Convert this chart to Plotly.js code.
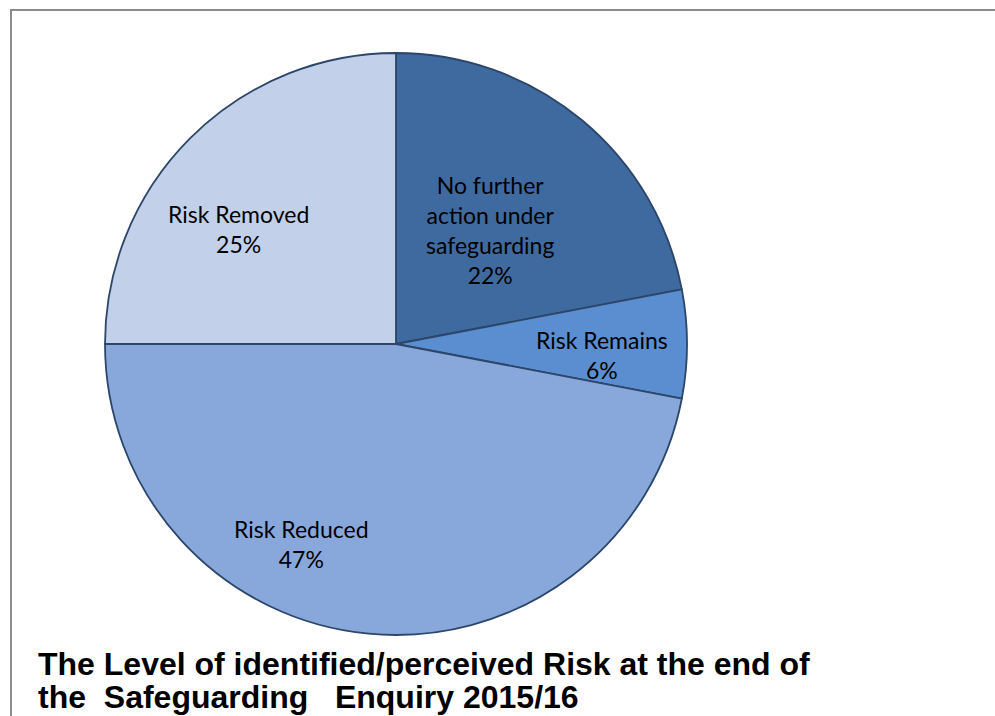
<!DOCTYPE html>
<html>
<head>
<meta charset="utf-8">
<script src="https://cdn.plot.ly/plotly-3.0.1.min.js"></script>
<style>
html,body{margin:0;padding:0;background:#fff;}
#frame{position:absolute;left:10px;top:9px;width:990px;height:720px;border-left:2px solid #8c8c8c;border-top:2px solid #8c8c8c;}
#chart{position:absolute;left:0;top:0;width:995px;height:716px;}
</style>
</head>
<body>
<div id="frame"></div>
<div id="chart"></div>
<script>
var categories = ["No further<br>action under<br>safeguarding", "Risk Remains", "Risk Reduced", "Risk Removed"];
var values = [22, 6, 47, 25];
var colors = ["#3f6aa0", "#5a8ed0", "#88a8dc", "#c2d0ea"];
var titleLines = ["The Level of identified/perceived Risk at the end of", "the  Safeguarding   Enquiry 2015/16"];

// label placement (angle offset from slice middle in degrees, radius fraction)
var labelAngleOffset = [0, 3, 20, -9];
var labelRadius = [0.51, 0.71, 0.76, 0.67];

var W = 995, H = 716;
var cx = 396, cy = 344, R = 291;
var total = values.reduce(function(a,b){return a+b;},0);

var annotations = [];
var cum = 0;
for (var i = 0; i < values.length; i++) {
  var mid = (cum + values[i]/2) / total * 360 + labelAngleOffset[i];
  cum += values[i];
  var a = mid * Math.PI / 180;
  var px = cx + Math.sin(a) * R * labelRadius[i];
  var py = cy - Math.cos(a) * R * labelRadius[i];
  annotations.push({
    x: px / W, y: 1 - py / H, xref: "paper", yref: "paper",
    xanchor: "center", yanchor: "middle",
    text: categories[i] + "<br>" + Math.round(values[i]/total*100) + "%",
    showarrow: false, align: "center",
    font: {family: "Lato, 'Open Sans', sans-serif", size: 23, color: "#000"}
  });
}
var titleCenters = [664, 697];
for (var j = 0; j < titleLines.length; j++) {
  annotations.push({
    x: 36 / W, y: 1 - titleCenters[j] / H, xref: "paper", yref: "paper",
    xanchor: "left", yanchor: "middle", align: "left",
    text: "<b>" + titleLines[j].replace(/ /g, "&nbsp;") + "</b>", showarrow: false,
    font: {family: "'Liberation Sans', Arial, sans-serif", size: 32, color: "#000"}
  });
}

var data = [{
  type: "pie",
  labels: categories,
  values: values,
  sort: false,
  direction: "clockwise",
  rotation: 0,
  textinfo: "none",
  hoverinfo: "label+percent",
  marker: {colors: colors, line: {color: "#2c4669", width: 1.8}},
  domain: {x: [(cx - R) / W, (cx + R) / W], y: [1 - (cy + R) / H, 1 - (cy - R) / H]}
}];

var layout = {
  width: W, height: H,
  margin: {l: 0, r: 0, t: 0, b: 0},
  paper_bgcolor: "rgba(0,0,0,0)",
  plot_bgcolor: "rgba(0,0,0,0)",
  showlegend: false,
  annotations: annotations
};

Plotly.newPlot("chart", data, layout, {displayModeBar: false, staticPlot: true});
</script>
</body>
</html>
